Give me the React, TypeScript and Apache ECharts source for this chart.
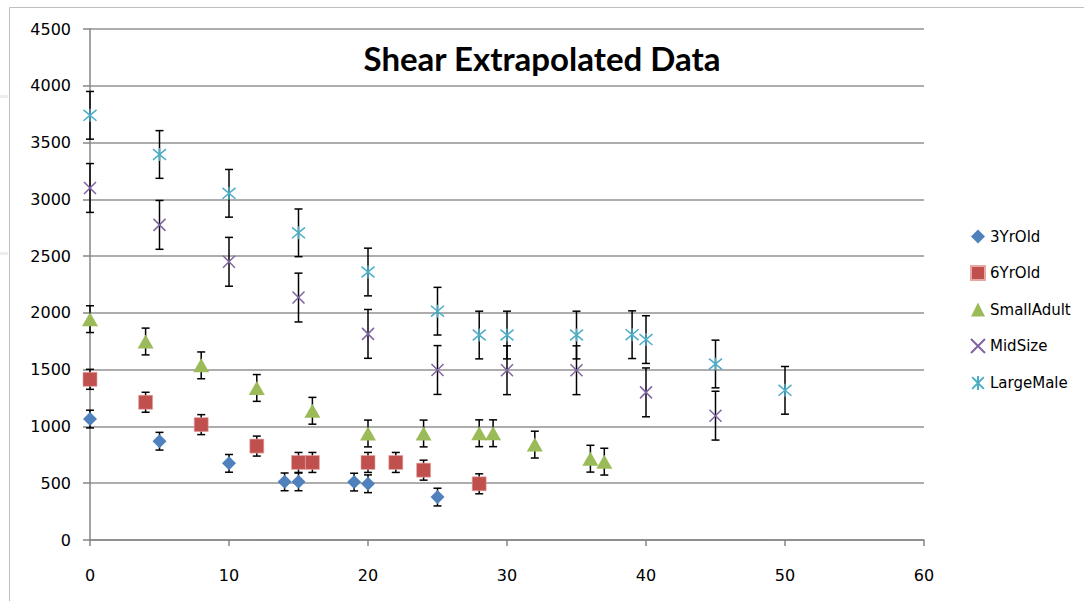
import React, { useEffect, useRef } from "react";
import * as echarts from "echarts";

const seriesNames = ["3YrOld", "6YrOld", "SmallAdult", "MidSize", "LargeMale"];
const seriesColors = ["#4F81BD", "#C0504D", "#9BBB59", "#8064A2", "#4BACC6"];

const x3YrOld = [0, 5, 10, 14, 15, 19, 20, 25];
const y3YrOld = [1065, 870, 675, 512, 512, 510, 495, 378];

const x6YrOld = [0, 4, 8, 12, 15, 16, 20, 22, 24, 28];
const y6YrOld = [1415, 1213, 1016, 827, 683, 683, 683, 683, 615, 495];

const xSmallAdult = [0, 4, 8, 12, 16, 20, 24, 28, 29, 32, 36, 37];
const ySmallAdult = [1945, 1748, 1538, 1339, 1138, 938, 938, 940, 940, 840, 716, 690];

const xMidSize = [0, 5, 10, 15, 20, 25, 30, 35, 40, 45];
const yMidSize = [3100, 2775, 2450, 2135, 1815, 1497, 1495, 1495, 1300, 1095];

const xLargeMale = [0, 5, 10, 15, 20, 25, 28, 30, 35, 39, 40, 45, 50];
const yLargeMale = [3740, 3395, 3053, 2705, 2360, 2015, 1805, 1805, 1805, 1808, 1765, 1550, 1318];

// fixed error-bar amounts (+/-) per series
const errorAmounts = [78, 88, 118, 215, 210];

const xTicks = [0, 10, 20, 30, 40, 50, 60];
const yTicks = [0, 500, 1000, 1500, 2000, 2500, 3000, 3500, 4000, 4500];

const xsAll = [x3YrOld, x6YrOld, xSmallAdult, xMidSize, xLargeMale];
const ysAll = [y3YrOld, y6YrOld, ySmallAdult, yMidSize, yLargeMale];

const X_PATH = "path://M0,0L10,10M10,0L0,10";
const STAR_PATH = "path://M0,0L10,10M10,0L0,10M5,-1L5,11";

export default function App() {
  const ref = useRef<HTMLDivElement>(null);

  useEffect(() => {
    if (!ref.current) return;
    const chart = echarts.init(ref.current, null, { renderer: "svg" });

    const symbolDefs: any[] = [
      { symbol: "diamond", symbolSize: 14, itemStyle: { color: seriesColors[0], opacity: 1 } },
      { symbol: "rect", symbolSize: 14, itemStyle: { color: seriesColors[1], borderColor: "#E8A6A4", borderWidth: 0.6, opacity: 1 } },
      { symbol: "triangle", symbolSize: [16, 14], itemStyle: { color: seriesColors[2], opacity: 1 } },
      { symbol: X_PATH, symbolSize: 12, itemStyle: { color: "rgba(0,0,0,0)", borderColor: seriesColors[3], borderWidth: 1.5, opacity: 1 } },
      { symbol: STAR_PATH, symbolSize: 13, itemStyle: { color: "rgba(0,0,0,0)", borderColor: seriesColors[4], borderWidth: 1.5, opacity: 1 } },
    ];

    const errorSeries = seriesNames.map((name, i) => ({
      type: "custom",
      name: name + "-err",
      silent: true,
      z: 1,
      encode: { x: 0, y: 1 },
      data: xsAll[i].map((x, j) => [x, ysAll[i][j], errorAmounts[i]]),
      renderItem: (params: any, api: any) => {
        const x = api.value(0);
        const y = api.value(1);
        const e = api.value(2);
        const top = api.coord([x, y + e]);
        const bot = api.coord([x, y - e]);
        const hw = 4;
        const st = { stroke: "#000", lineWidth: 1.5 };
        return {
          type: "group",
          children: [
            { type: "line", shape: { x1: top[0], y1: top[1], x2: bot[0], y2: bot[1] }, style: st },
            { type: "line", shape: { x1: top[0] - hw, y1: top[1], x2: top[0] + hw, y2: top[1] }, style: st },
            { type: "line", shape: { x1: bot[0] - hw, y1: bot[1], x2: bot[0] + hw, y2: bot[1] }, style: st },
          ],
        };
      },
    }));

    const scatterSeries = seriesNames.map((name, i) => ({
      type: "scatter",
      name,
      z: 3,
      data: xsAll[i].map((x, j) => [x, ysAll[i][j]]),
      ...symbolDefs[i],
    }));

    chart.setOption({
      animation: false,
      backgroundColor: "#FFFFFF",
      title: {
        text: "Shear Extrapolated Data",
        left: "center",
        top: 36,
        textStyle: { fontFamily: "Lato", fontWeight: "bold", fontSize: 33, color: "#000" },
      },
      grid: { left: 90, top: 29, width: 834, height: 511 },
      xAxis: {
        type: "value",
        min: xTicks[0],
        max: xTicks[xTicks.length - 1],
        interval: 10,
        axisLine: { show: true, lineStyle: { color: "#868686", width: 1.5 } },
        axisTick: { show: true, length: 6, lineStyle: { color: "#868686", width: 1.5 } },
        splitLine: { show: false },
        axisLabel: { margin: 27, fontFamily: "DejaVu Sans", fontSize: 16, color: "#000", formatter: (v: number) => String(v) },
      },
      yAxis: {
        type: "value",
        min: yTicks[0],
        max: yTicks[yTicks.length - 1],
        interval: 500,
        axisLine: { show: true, lineStyle: { color: "#868686", width: 1.5 } },
        axisTick: { show: true, length: 7, lineStyle: { color: "#868686", width: 1.5 } },
        splitLine: { show: true, lineStyle: { color: "#929292", width: 1.5 } },
        axisLabel: { margin: 19, fontFamily: "DejaVu Sans", fontSize: 16, color: "#000", formatter: (v: number) => String(v) },
      },
      legend: {
        orient: "vertical",
        left: 965,
        top: 224,
        itemWidth: 14,
        itemHeight: 14,
        itemGap: 21,
        data: seriesNames,
        textStyle: { fontFamily: "DejaVu Sans", fontSize: 15, color: "#000" },
      },
      graphic: [
        { type: "rect", shape: { x: 9.5, y: 7.5, width: 1100, height: 620 }, style: { fill: "none", stroke: "#BFBFBF", lineWidth: 1 }, silent: true },
        { type: "line", shape: { x1: 0, y1: 96.5, x2: 8, y2: 96.5 }, style: { stroke: "#EDEDED", lineWidth: 3 }, silent: true },
        { type: "line", shape: { x1: 0, y1: 253.5, x2: 8, y2: 253.5 }, style: { stroke: "#EDEDED", lineWidth: 3 }, silent: true },
      ],
      series: [...errorSeries, ...scatterSeries],
    });

    return () => chart.dispose();
  }, []);

  return (
    <div
      ref={ref}
      style={{ position: "fixed", left: 0, top: 0, width: 1084, height: 601, background: "#fff" }}
    />
  );
}
